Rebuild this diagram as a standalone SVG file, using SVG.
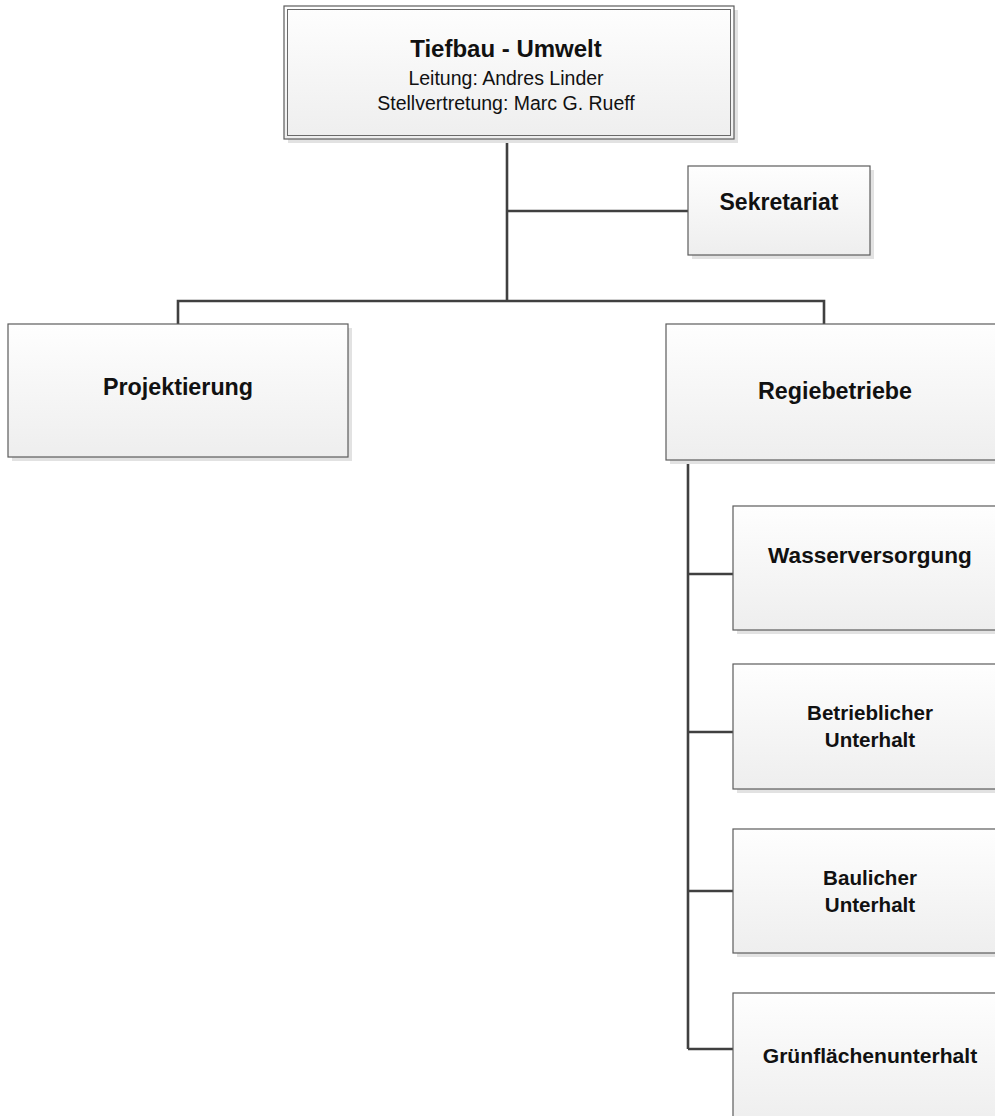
<svg xmlns="http://www.w3.org/2000/svg" width="995" height="1116" viewBox="0 0 995 1116">
<defs>
<linearGradient id="g" x1="0" y1="0" x2="0" y2="1">
<stop offset="0" stop-color="#fefefe"/>
<stop offset="1" stop-color="#eeeeee"/>
</linearGradient>
<style>
.sh{fill:#e2e2e2}
.bx{fill:url(#g);stroke:#5c5c5c;stroke-width:1.2}
.in{fill:none;stroke:#6a6a6a;stroke-width:1}
.t{font-family:"Liberation Sans",Arial,sans-serif;fill:#111;text-anchor:middle}
.b{font-weight:bold}
.c{fill:none;stroke:#404040;stroke-width:2.6}
</style>
</defs>
<rect width="995" height="1116" fill="#fff"/>
<g id="connectors">
<path class="c" d="M507,139 V301"/>
<path class="c" d="M507,211 H688"/>
<path class="c" d="M178,324 V301 H824 V324"/>
<path class="c" d="M688,460 V1049"/>
<path class="c" d="M688,574 H733"/>
<path class="c" d="M688,732 H733"/>
<path class="c" d="M688,891 H733"/>
<path class="c" d="M688,1049 H733"/>
</g>
<g id="n-tiefbau">
<rect class="sh" x="288" y="10" width="450" height="133"/>
<rect class="bx" x="284" y="6" width="450" height="133"/>
<rect class="in" x="287.5" y="9.5" width="443" height="126"/>
<text class="t b" x="506" y="57" font-size="24">Tiefbau - Umwelt</text>
<text class="t" x="506" y="85" font-size="19.5">Leitung: Andres Linder</text>
<text class="t" x="506" y="110" font-size="19.5">Stellvertretung: Marc G. Rueff</text>
</g>
<g id="n-sekretariat">
<rect class="sh" x="692" y="170" width="182" height="89"/>
<rect class="bx" x="688" y="166" width="182" height="89"/>
<text class="t b" x="779" y="210" font-size="23">Sekretariat</text>
</g>
<g id="n-projektierung">
<rect class="sh" x="12" y="328" width="340" height="133"/>
<rect class="bx" x="8" y="324" width="340" height="133"/>
<text class="t b" x="178" y="395" font-size="23.3">Projektierung</text>
</g>
<g id="n-regiebetriebe">
<rect class="sh" x="670" y="328" width="340" height="136"/>
<rect class="bx" x="666" y="324" width="340" height="136"/>
<text class="t b" x="835" y="399" font-size="23.3">Regiebetriebe</text>
</g>
<g id="n-wasserversorgung">
<rect class="sh" x="737" y="510" width="274" height="124"/>
<rect class="bx" x="733" y="506" width="274" height="124"/>
<text class="t b" x="870" y="563" font-size="22.6">Wasserversorgung</text>
</g>
<g id="n-betrieblicher">
<rect class="sh" x="737" y="668" width="274" height="125"/>
<rect class="bx" x="733" y="664" width="274" height="125"/>
<text class="t b" x="870" y="720" font-size="20.6">Betrieblicher</text>
<text class="t b" x="870" y="747" font-size="20.6">Unterhalt</text>
</g>
<g id="n-baulicher">
<rect class="sh" x="737" y="833" width="274" height="124"/>
<rect class="bx" x="733" y="829" width="274" height="124"/>
<text class="t b" x="870" y="885" font-size="20.6">Baulicher</text>
<text class="t b" x="870" y="912" font-size="20.6">Unterhalt</text>
</g>
<g id="n-gruenflaechen">
<rect class="sh" x="737" y="997" width="274" height="130"/>
<rect class="bx" x="733" y="993" width="274" height="130"/>
<text class="t b" x="870" y="1063" font-size="21.1">Grünflächenunterhalt</text>
</g>
</svg>
